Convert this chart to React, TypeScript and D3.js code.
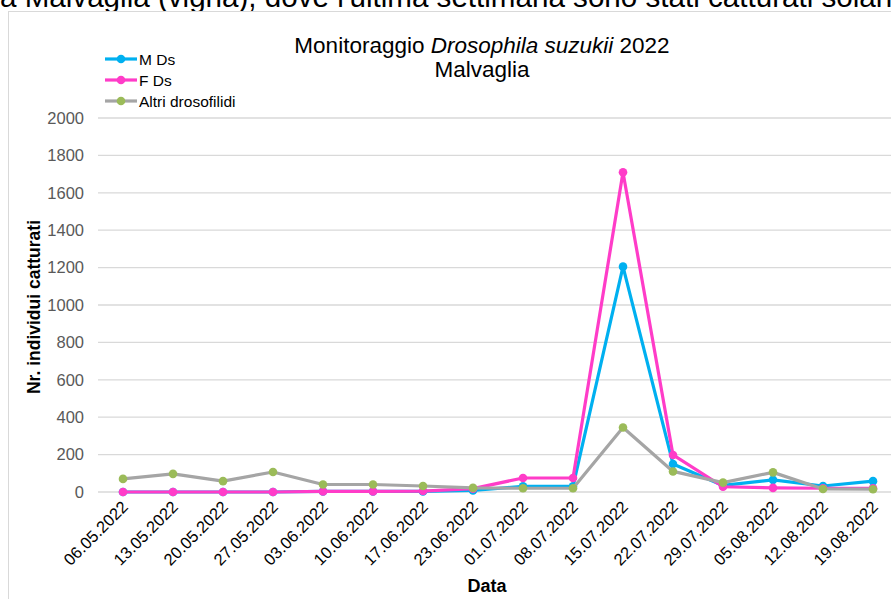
import React from "react";
import * as d3 from "d3";

const dates = [
  "06.05.2022", "13.05.2022", "20.05.2022", "27.05.2022", "03.06.2022", "10.06.2022",
  "17.06.2022", "23.06.2022", "01.07.2022", "08.07.2022", "15.07.2022", "22.07.2022",
  "29.07.2022", "05.08.2022", "12.08.2022", "19.08.2022",
];
const mDs = [0, 0, 0, 0, 3, 3, 3, 8, 30, 30, 1205, 150, 35, 65, 32, 58];
const fDs = [0, 0, 0, 0, 3, 3, 5, 18, 75, 75, 1710, 198, 28, 22, 20, 20];
const altri = [70, 97, 58, 107, 40, 40, 32, 22, 20, 20, 345, 110, 50, 105, 16, 15];
const yTicks = [0, 200, 400, 600, 800, 1000, 1200, 1400, 1600, 1800, 2000];

const series = [
  { name: "M Ds", values: mDs, line: "#00b0f0", marker: "#00b0f0" },
  { name: "F Ds", values: fDs, line: "#ff3cc8", marker: "#ff3cc8" },
  { name: "Altri drosofilidi", values: altri, line: "#a5a5a5", marker: "#9bbb59" },
];

const FONT = "'Liberation Sans', Arial, sans-serif";

export default function App() {
  const W = 891;
  const H = 599;
  const x = d3.scaleBand<string>().domain(dates).range([98, 898]).padding(0);
  const y = d3.scaleLinear().domain([0, 2000]).range([492, 118]);
  const cx = (d: string) => (x(d) as number) + x.bandwidth() / 2;
  const line = d3
    .line<number>()
    .x((_, i) => cx(dates[i]))
    .y((v) => y(v));

  return (
    <svg
      width={W}
      height={H}
      style={{ position: "absolute", left: 0, top: 0, background: "#fff" }}
      fontFamily={FONT}
    >
      <text x={0} y={7} fontSize={29.6} fill="#000">
        a Malvaglia (vigna), dove l'ultima settimana sono stati catturati solan
      </text>
      <rect x={8.5} y={11.5} width={900} height={620} fill="#fff" stroke="#d9d9d9" />

      {/* gridlines */}
      {yTicks.map((t) => (
        <line key={t} x1={98} x2={898} y1={y(t)} y2={y(t)} stroke="#d9d9d9" strokeWidth={1.3} />
      ))}
      {/* y tick labels */}
      {yTicks.map((t) => (
        <text key={"l" + t} x={84} y={y(t)} dy="0.35em" textAnchor="end" fontSize={16.5} fill="#595959">
          {t}
        </text>
      ))}
      {/* x tick labels */}
      {dates.map((d) => (
        <text
          key={d}
          transform={`translate(${cx(d) + 6},${508}) rotate(-45)`}
          textAnchor="end"
          fontSize={16.5}
          fill="#000"
        >
          {d}
        </text>
      ))}

      {/* series */}
      {series.map((s) => (
        <g key={s.name}>
          <path d={line(s.values) as string} fill="none" stroke={s.line} strokeWidth={3.2} strokeLinejoin="round" />
          {s.values.map((v, i) => (
            <circle key={i} cx={cx(dates[i])} cy={y(v)} r={4.3} fill={s.marker} />
          ))}
        </g>
      ))}

      {/* titles */}
      <text x={482} y={53} textAnchor="middle" fontSize={22.5} fill="#000">
        Monitoraggio <tspan fontStyle="italic">Drosophila</tspan>{" "}
        <tspan fontStyle="italic">suzukii</tspan> 2022
      </text>
      <text x={482} y={77} textAnchor="middle" fontSize={22.5} fill="#000">
        Malvaglia
      </text>
      <text
        transform={`translate(40,307) rotate(-90)`}
        textAnchor="middle"
        fontSize={17.5}
        fontWeight="bold"
        fill="#000"
      >
        Nr. individui catturati
      </text>
      <text x={487} y={592} textAnchor="middle" fontSize={18} fontWeight="bold" fill="#000">
        Data
      </text>

      {/* legend */}
      {series.map((s, i) => {
        const ly = 59 + i * 21;
        return (
          <g key={"lg" + s.name}>
            <line x1={105} x2={137} y1={ly} y2={ly} stroke={s.line} strokeWidth={3.2} />
            <circle cx={121} cy={ly} r={4.3} fill={s.marker} />
            <text x={139} y={ly} dy="0.36em" fontSize={15.5} fill="#000">
              {s.name}
            </text>
          </g>
        );
      })}
    </svg>
  );
}
